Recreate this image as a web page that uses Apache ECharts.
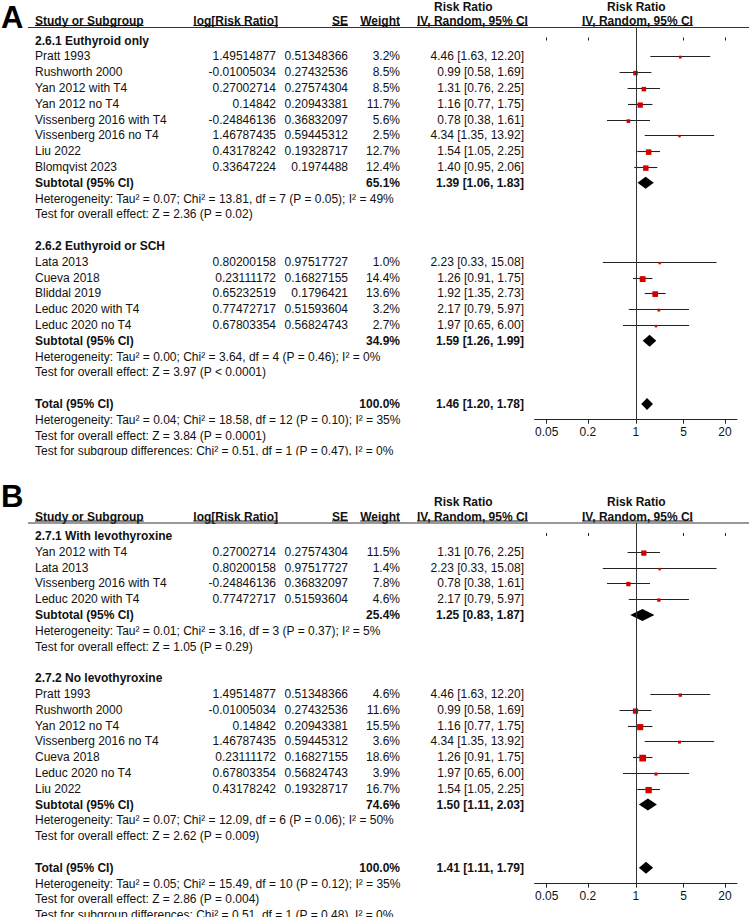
<!DOCTYPE html>
<html><head><meta charset="utf-8">
<script src="https://cdn.jsdelivr.net/npm/echarts@6/dist/echarts.min.js"></script>
<style>html,body{margin:0;padding:0;background:#fff}#c{width:749px;height:917px}</style>
</head><body><div id="c"></div>
<script>
// ---- axis ----
const tickLabels = [0.05, 0.2, 1, 5, 20];
const axisMin = 1 / 30, axisMax = 30;

// ---- Panel A, 2.6.1 ----
const a1Title = '2.6.1 Euthyroid only';
const a1Names = ['Pratt 1993','Rushworth 2000','Yan 2012 with T4','Yan 2012 no T4','Vissenberg 2016 with T4','Vissenberg 2016 no T4','Liu 2022','Blomqvist 2023'];
const a1Log = [1.49514877,-0.01005034,0.27002714,0.14842,-0.24846136,1.46787435,0.43178242,0.33647224];
const a1SE = [0.51348366,0.27432536,0.27574304,0.20943381,0.36832097,0.59445312,0.19328717,0.1974488];
const a1W = [3.2,8.5,8.5,11.7,5.6,2.5,12.7,12.4];
const a1RR = [4.46,0.99,1.31,1.16,0.78,4.34,1.54,1.40];
const a1Lo = [1.63,0.58,0.76,0.77,0.38,1.35,1.05,0.95];
const a1Hi = [12.20,1.69,2.25,1.75,1.61,13.92,2.25,2.06];
const a1Sub = [65.1, 1.39, 1.06, 1.83];
const a1Het = 'Heterogeneity: Tau² = 0.07; Chi² = 13.81, df = 7 (P = 0.05); I² = 49%';
const a1Z = 'Test for overall effect: Z = 2.36 (P = 0.02)';

// ---- Panel A, 2.6.2 ----
const a2Title = '2.6.2 Euthyroid or SCH';
const a2Names = ['Lata 2013','Cueva 2018','Bliddal 2019','Leduc 2020 with T4','Leduc 2020 no T4'];
const a2Log = [0.80200158,0.23111172,0.65232519,0.77472717,0.67803354];
const a2SE = [0.97517727,0.16827155,0.1796421,0.51593604,0.56824743];
const a2W = [1.0,14.4,13.6,3.2,2.7];
const a2RR = [2.23,1.26,1.92,2.17,1.97];
const a2Lo = [0.33,0.91,1.35,0.79,0.65];
const a2Hi = [15.08,1.75,2.73,5.97,6.00];
const a2Sub = [34.9, 1.59, 1.26, 1.99];
const a2Het = 'Heterogeneity: Tau² = 0.00; Chi² = 3.64, df = 4 (P = 0.46); I² = 0%';
const a2Z = 'Test for overall effect: Z = 3.97 (P < 0.0001)';

const aTot = [100.0, 1.46, 1.20, 1.78];
const aTotHet = 'Heterogeneity: Tau² = 0.04; Chi² = 18.58, df = 12 (P = 0.10); I² = 35%';
const aTotZ = 'Test for overall effect: Z = 3.84 (P = 0.0001)';
const aDiff = 'Test for subgroup differences: Chi² = 0.51, df = 1 (P = 0.47), I² = 0%';

// ---- Panel B, 2.7.1 ----
const b1Title = '2.7.1 With levothyroxine';
const b1Names = ['Yan 2012 with T4','Lata 2013','Vissenberg 2016 with T4','Leduc 2020 with T4'];
const b1Log = [0.27002714,0.80200158,-0.24846136,0.77472717];
const b1SE = [0.27574304,0.97517727,0.36832097,0.51593604];
const b1W = [11.5,1.4,7.8,4.6];
const b1RR = [1.31,2.23,0.78,2.17];
const b1Lo = [0.76,0.33,0.38,0.79];
const b1Hi = [2.25,15.08,1.61,5.97];
const b1Sub = [25.4, 1.25, 0.83, 1.87];
const b1Het = 'Heterogeneity: Tau² = 0.01; Chi² = 3.16, df = 3 (P = 0.37); I² = 5%';
const b1Z = 'Test for overall effect: Z = 1.05 (P = 0.29)';

// ---- Panel B, 2.7.2 ----
const b2Title = '2.7.2 No levothyroxine';
const b2Names = ['Pratt 1993','Rushworth 2000','Yan 2012 no T4','Vissenberg 2016 no T4','Cueva 2018','Leduc 2020 no T4','Liu 2022'];
const b2Log = [1.49514877,-0.01005034,0.14842,1.46787435,0.23111172,0.67803354,0.43178242];
const b2SE = [0.51348366,0.27432536,0.20943381,0.59445312,0.16827155,0.56824743,0.19328717];
const b2W = [4.6,11.6,15.5,3.6,18.6,3.9,16.7];
const b2RR = [4.46,0.99,1.16,4.34,1.26,1.97,1.54];
const b2Lo = [1.63,0.58,0.77,1.35,0.91,0.65,1.05];
const b2Hi = [12.20,1.69,1.75,13.92,1.75,6.00,2.25];
const b2Sub = [74.6, 1.50, 1.11, 2.03];
const b2Het = 'Heterogeneity: Tau² = 0.07; Chi² = 12.09, df = 6 (P = 0.06); I² = 50%';
const b2Z = 'Test for overall effect: Z = 2.62 (P = 0.009)';

const bTot = [100.0, 1.41, 1.11, 1.79];
const bTotHet = 'Heterogeneity: Tau² = 0.05; Chi² = 15.49, df = 10 (P = 0.12); I² = 35%';
const bTotZ = 'Test for overall effect: Z = 2.86 (P = 0.004)';
const bDiff = 'Test for subgroup differences: Chi² = 0.51, df = 1 (P = 0.48), I² = 0%';

// ---- layout ----
const FONT = '"Liberation Sans", Arial, Helvetica, sans-serif';
const STEP = 15.8;
const TXT = '#111';
const X_NAME = 35, X_LOG = 276, X_SE = 348, X_W = 400, X_RR = 524;
const GRID_LEFT = 534.6, GRID_RIGHT = 12;

const panels = [
  { letter: 'A', offset: 0, letterY: 17, groups: [
      {title:a1Title,names:a1Names,log:a1Log,se:a1SE,w:a1W,rr:a1RR,lo:a1Lo,hi:a1Hi,sub:a1Sub,het:a1Het,z:a1Z},
      {title:a2Title,names:a2Names,log:a2Log,se:a2SE,w:a2W,rr:a2RR,lo:a2Lo,hi:a2Hi,sub:a2Sub,het:a2Het,z:a2Z}],
    tot: aTot, totHet: aTotHet, totZ: aTotZ, diff: aDiff },
  { letter: 'B', offset: 495.5, letterY: 1, groups: [
      {title:b1Title,names:b1Names,log:b1Log,se:b1SE,w:b1W,rr:b1RR,lo:b1Lo,hi:b1Hi,sub:b1Sub,het:b1Het,z:b1Z},
      {title:b2Title,names:b2Names,log:b2Log,se:b2SE,w:b2W,rr:b2RR,lo:b2Lo,hi:b2Hi,sub:b2Sub,het:b2Het,z:b2Z}],
    tot: bTot, totHet: bTotHet, totZ: bTotZ, diff: bDiff }
];

const L = Math.log10;
const fmtCI = (r, lo, hi) => r.toFixed(2) + ' [' + lo.toFixed(2) + ', ' + hi.toFixed(2) + ']';

const measure = (() => {
  const ctx = document.createElement('canvas').getContext('2d');
  return (t, f) => { ctx.font = f; return ctx.measureText(t).width; };
})();

const grids = [], xAxes = [], yAxes = [], series = [], graphics = [];

function txt(x, y, s, opt) {
  opt = opt || {};
  const font = (opt.bold ? 'bold ' : '') + (opt.size || 12) + 'px ' + FONT;
  graphics.push({ type: 'text', x: x, y: y, z: 10,
    style: { text: s, font: font, fill: opt.fill || TXT, textAlign: opt.align || 'left', textVerticalAlign: 'middle' } });
  if (opt.underline) {
    const w = measure(s, font);
    const x0 = opt.align === 'right' ? x - w : x;
    graphics.push({ type: 'line', z: 10, shape: { x1: x0, y1: opt.uy, x2: x0 + w, y2: opt.uy },
      style: { stroke: TXT, lineWidth: 1 } });
  }
}

panels.forEach((p, pi) => {
  const slot0 = p.offset + 40.5;
  const ruleY = p.offset + 27.5;
  const rowY = s => slot0 + s * STEP;
  const studyData = [], diamondData = [];
  let s = 0;
  p.groups.forEach(g => {
    txt(X_NAME, rowY(s), g.title, { bold: true }); s++;
    g.names.forEach((n, i) => {
      const y = rowY(s);
      txt(X_NAME, y, n);
      txt(X_LOG, y, String(g.log[i]), { align: 'right' });
      txt(X_SE, y, String(g.se[i]), { align: 'right' });
      txt(X_W, y, g.w[i].toFixed(1) + '%', { align: 'right' });
      txt(X_RR, y, fmtCI(g.rr[i], g.lo[i], g.hi[i]), { align: 'right' });
      studyData.push([L(g.lo[i]), L(g.hi[i]), L(g.rr[i]), s, g.w[i]]);
      s++;
    });
    const y = rowY(s);
    txt(X_NAME, y, 'Subtotal (95% CI)', { bold: true });
    txt(X_W, y, g.sub[0].toFixed(1) + '%', { align: 'right', bold: true });
    txt(X_RR, y, fmtCI(g.sub[1], g.sub[2], g.sub[3]), { align: 'right', bold: true });
    diamondData.push([L(g.sub[2]), L(g.sub[1]), L(g.sub[3]), s]);
    s++;
    txt(X_NAME, rowY(s), g.het); s++;
    txt(X_NAME, rowY(s), g.z); s++;
    s++;
  });
  const ty = rowY(s);
  txt(X_NAME, ty, 'Total (95% CI)', { bold: true });
  txt(X_W, ty, p.tot[0].toFixed(1) + '%', { align: 'right', bold: true });
  txt(X_RR, ty, fmtCI(p.tot[1], p.tot[2], p.tot[3]), { align: 'right', bold: true });
  diamondData.push([L(p.tot[2]), L(p.tot[1]), L(p.tot[3]), s]);
  const totSlot = s;
  s++;
  txt(X_NAME, rowY(s), p.totHet); s++;
  txt(X_NAME, rowY(s), p.totZ); s++;
  txt(X_NAME, rowY(s), p.diff); s++;

  // header
  const hy = ruleY - 6.5, uy = ruleY - 2;
  txt(1, p.offset + p.letterY, p.letter, { bold: true, size: 31, fill: '#000' });
  txt(X_NAME, hy, 'Study or Subgroup', { bold: true, underline: true, uy: uy });
  txt(278, hy, 'log[Risk Ratio]', { bold: true, underline: true, uy: uy, align: 'right' });
  txt(X_SE, hy, 'SE', { bold: true, underline: true, uy: uy, align: 'right' });
  txt(X_W, hy, 'Weight', { bold: true, underline: true, uy: uy, align: 'right' });
  txt(434, ruleY - 21, 'Risk Ratio', { bold: true });
  txt(417, hy, 'IV, Random, 95% CI', { bold: true, underline: true, uy: uy });
  txt(607, ruleY - 21, 'Risk Ratio', { bold: true });
  txt(582, hy, 'IV, Random, 95% CI', { bold: true, underline: true, uy: uy });
  graphics.push({ type: 'line', z: 10, shape: { x1: 28, y1: ruleY, x2: 749, y2: ruleY },
    style: { stroke: '#333', lineWidth: 1.2 } });

  // grid / axes
  const axisY = rowY(totSlot + 1);
  grids.push({ left: GRID_LEFT, right: GRID_RIGHT, top: ruleY, height: axisY - ruleY });
  const tv = tickLabels.map(v => L(v));
  const lab = v => { let best = 0; tv.forEach((t, i) => { if (Math.abs(t - v) < Math.abs(tv[best] - v)) best = i; }); return String(tickLabels[best]); };
  xAxes.push({ type: 'value', gridIndex: pi, min: L(axisMin), max: L(axisMax), position: 'bottom',
    axisLine: { show: true, onZero: false, lineStyle: { color: '#222', width: 1 } },
    axisTick: { show: true, customValues: tv, length: 4, lineStyle: { color: '#222' } },
    axisLabel: { show: true, customValues: tv, formatter: lab, fontFamily: FONT, fontSize: 12, color: TXT, margin: 6 },
    splitLine: { show: false } });
  xAxes.push({ type: 'value', gridIndex: pi, min: L(axisMin), max: L(axisMax), position: 'bottom',
    axisLine: { show: false }, axisLabel: { show: false }, splitLine: { show: false },
    axisTick: { show: true, inside: true, customValues: tv, length: 3, lineStyle: { color: '#222' } } });
  yAxes.push({ type: 'value', gridIndex: pi, inverse: true, show: false,
    min: (ruleY - slot0) / STEP, max: (axisY - slot0) / STEP });

  series.push({
    type: 'custom', xAxisIndex: pi * 2, yAxisIndex: pi, data: studyData, encode: { x: [0, 1, 2], y: 3 },
    renderItem: (params, api) => {
      const lo = api.coord([api.value(0), api.value(3)]);
      const hi = api.coord([api.value(1), api.value(3)]);
      const c = api.coord([api.value(2), api.value(3)]);
      const sz = Math.max(2.4, Math.sqrt(api.value(4)) * 1.55);
      const ly = Math.round(lo[1]) + 0.5;
      return { type: 'group', children: [
        { type: 'line', shape: { x1: lo[0], y1: ly, x2: hi[0], y2: ly }, style: { stroke: '#222', lineWidth: 1.1 } },
        { type: 'rect', shape: { x: c[0] - sz / 2, y: ly - sz / 2 + 0.6, width: sz, height: sz }, style: { fill: '#d40000' } }
      ] };
    },
    markLine: { silent: true, symbol: 'none', animation: false, label: { show: false },
      lineStyle: { color: '#333', width: 1, type: 'solid' }, data: [{ xAxis: 0 }] },
    animation: false, z: 3
  });
  series.push({
    type: 'custom', xAxisIndex: pi * 2, yAxisIndex: pi, data: diamondData, encode: { x: [0, 1, 2], y: 3 },
    renderItem: (params, api) => {
      const a = api.coord([api.value(0), api.value(3)]);
      const m = api.coord([api.value(1), api.value(3)]);
      const b = api.coord([api.value(2), api.value(3)]);
      const h = 6;
      return { type: 'polygon', shape: { points: [[a[0], a[1]], [m[0], m[1] - h], [b[0], b[1]], [m[0], m[1] + h]] },
        style: { fill: '#000' } };
    },
    animation: false, z: 4
  });
});

// panel A image is clipped at its bottom edge in the reference
graphics.push({ type: 'rect', z: 20, shape: { x: 0, y: 455.5, width: 749, height: 14 }, style: { fill: '#fff' } });

const chart = echarts.init(document.getElementById('c'), null, { renderer: 'svg' });
chart.setOption({
  backgroundColor: '#fff', animation: false,
  grid: grids, xAxis: xAxes, yAxis: yAxes, series: series, graphic: graphics
});
</script></body></html>
